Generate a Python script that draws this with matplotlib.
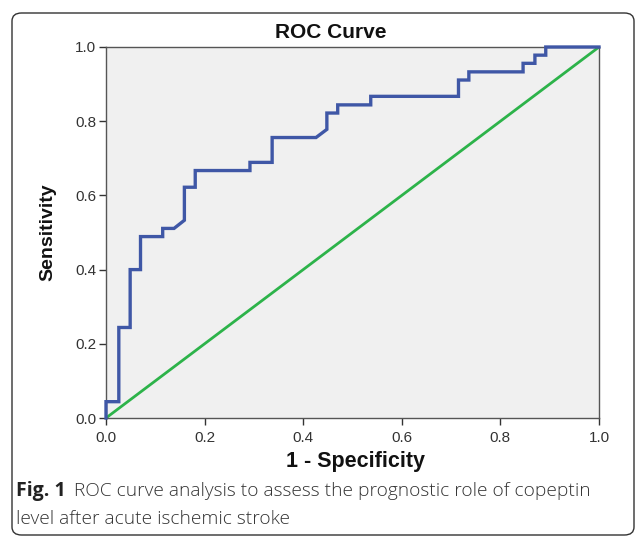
import matplotlib
matplotlib.use("Agg")
import matplotlib.pyplot as plt
from matplotlib.patches import FancyBboxPatch

# ROC curve step vertices
fpr = [0.0, 0.0, 0.026, 0.026, 0.049, 0.049, 0.070, 0.070, 0.115, 0.115,
       0.138, 0.159, 0.159, 0.181, 0.181, 0.292, 0.292, 0.337, 0.337, 0.426,
       0.448, 0.448, 0.470, 0.470, 0.537, 0.537, 0.715, 0.715, 0.736, 0.736,
       0.846, 0.846, 0.870, 0.870, 0.892, 0.892, 1.0]
tpr = [0.0, 0.044, 0.044, 0.244, 0.244, 0.400, 0.400, 0.489, 0.489, 0.511,
       0.511, 0.533, 0.622, 0.622, 0.667, 0.667, 0.689, 0.689, 0.756, 0.756,
       0.778, 0.822, 0.822, 0.844, 0.844, 0.867, 0.867, 0.911, 0.911, 0.933,
       0.933, 0.956, 0.956, 0.978, 0.978, 1.0, 1.0]
ref_x = [0.0, 1.0]
ref_y = [0.0, 1.0]
ticks = [0.0, 0.2, 0.4, 0.6, 0.8, 1.0]
tick_labels = ["0.0", "0.2", "0.4", "0.6", "0.8", "1.0"]

plt.rcParams['font.family'] = ['Liberation Sans', 'DejaVu Sans']

fig = plt.figure(figsize=(6.37, 5.37), dpi=100)
W, H = 637, 537

# rounded frame around the figure + caption
box = FancyBboxPatch((12 / W, 2 / H), 622 / W, 522 / H,
                     boxstyle="round,pad=0,rounding_size=0.015",
                     transform=fig.transFigure, fill=False,
                     edgecolor="#333333", linewidth=1.0)
fig.patches.append(box)

ax = fig.add_axes([106 / W, 1 - 418 / H, 493 / W, 371 / H])
ax.set_facecolor("#F0F0F0")

ax.plot(ref_x, ref_y, color="#2DB34A", linewidth=2.0, zorder=2)
ax.plot(fpr, tpr, color="#3F57A6", linewidth=2.4, zorder=3,
        solid_joinstyle="miter", clip_on=False)

ax.set_xlim(0, 1)
ax.set_ylim(0, 1)
ax.set_xticks(ticks)
ax.set_yticks(ticks)
ax.set_xticklabels(tick_labels)
ax.set_yticklabels(tick_labels)
ax.tick_params(direction="out", length=5, width=1, colors="#333333",
               labelsize=11, pad=2)
ax.tick_params(axis="x", pad=4)
for s in ax.spines.values():
    s.set_color("#555555")
    s.set_linewidth(1.0)

fig.text(331 / W, 1 - 33 / H, "ROC Curve", ha="center", va="center",
         fontsize=15, fontweight="bold", color="#111111")
fig.text(355 / W, 1 - 462 / H, "1 - Specificity", ha="center", va="center",
         fontsize=15.5, fontweight="bold", color="#111111")
fig.text(48 / W, 1 - 232 / H, "Sensitivity", ha="center", va="center",
         rotation=90, fontsize=14, fontweight="bold", color="#111111")

# caption
cap_font = ['Open Sans', 'DejaVu Sans']
fig.canvas.draw()
t1 = fig.text(16 / W, 1 - 491 / H, "Fig. 1", ha="left", va="center",
              fontsize=14, fontweight="bold", family=cap_font, color="#222222")
bb = t1.get_window_extent(renderer=fig.canvas.get_renderer())
fig.text((bb.x1 + 8) / W, 1 - 491 / H,
         "ROC curve analysis to assess the prognostic role of copeptin",
         ha="left", va="center", fontsize=13.8, family=cap_font,
         color="#333333", fontweight="light")
fig.text(16 / W, 1 - 519 / H, "level after acute ischemic stroke",
         ha="left", va="center", fontsize=13.8, family=cap_font,
         color="#333333", fontweight="light")

fig.savefig("out.png", dpi=100)
